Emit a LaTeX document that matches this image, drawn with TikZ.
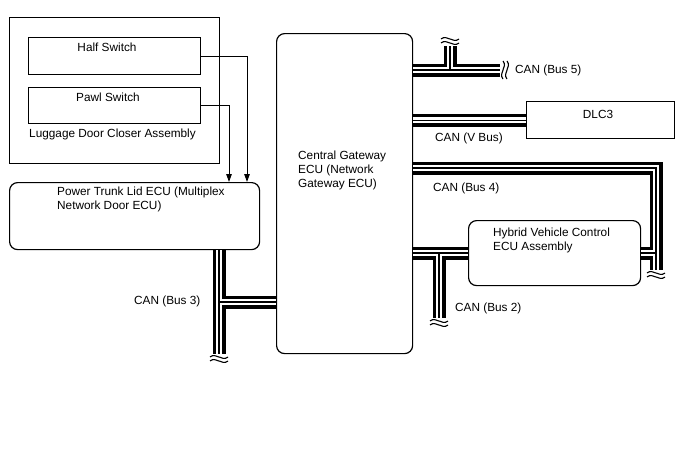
\documentclass[tikz,border=0pt]{standalone}
\usepackage{fontspec}
\setmainfont{Liberation Sans}
\usetikzlibrary{arrows.meta}
\tikzset{
  box/.style={draw, line width=1.2pt, inner sep=0pt, anchor=north west},
  rbox/.style={box, rounded corners=8pt},
  txt/.style={inner sep=0pt, font=\fontsize{11.8}{14}\selectfont, align=left},
  conn/.style={draw, line width=1pt, -{Triangle[length=8pt,width=5.5pt]}},
  busouter/.style={line width=13pt, black, line cap=butt, line join=miter},
  businner/.style={line width=6pt, white, line cap=butt, line join=miter},
  buscore/.style={line width=1.2pt, black, line cap=butt, line join=miter},
  squig/.style={line width=1.1pt, black},
}
\newcommand{\drawbuses}[1]{%
  \draw[#1] (gw.east |- b5e) -- (b5e);
  \draw[#1] (b5j) -- (b5t);
  \draw[#1] (gw.east |- dlc.west) -- (dlc.west);
  \draw[#1] (gw.east |- b4c) -- (b4c) -- (b4e);
  \draw[#1] (b4j) -- (hv.east |- b4j);
  \draw[#1] (gw.east |- b2j) -- (hv.west |- b2j);
  \draw[#1] (b2j) -- (b2e);
  \draw[#1] (trunk.south -| b3e) -- (b3e);
  \draw[#1] (b3j) -- (gw.west |- b3j);
}
% #1 = coordinate name, #2 = +1 (end pointing down) or -1 (end pointing up)
\newcommand{\vend}[2]{%
  \draw[squig] ([shift={(-9,#2*3)}]#1) .. controls +(6,-5) and +(-6,5) .. ++(18,0);
  \draw[squig] ([shift={(-9,#2*7)}]#1) .. controls +(6,-5) and +(-6,5) .. ++(18,0);
}
\newcommand{\hend}[1]{%
  \draw[squig] ([shift={(3,-9)}]#1) .. controls +(5,6) and +(-5,-6) .. ++(0,18);
  \draw[squig] ([shift={(7,-9)}]#1) .. controls +(5,6) and +(-5,-6) .. ++(0,18);
}
\begin{document}
\begin{tikzpicture}[x=1pt,y=-1pt]
\useasboundingbox[fill=white] (0,0) rectangle (688,463);

% boxes
\node[box, minimum width=210pt, minimum height=146pt] (ldc) at (9,17) {};
\node[box, minimum width=172pt, minimum height=37pt] (half) at (28,37) {};
\node[box, minimum width=172pt, minimum height=36pt] (pawl) at (28,87) {};
\node[rbox, minimum width=250pt, minimum height=67pt] (trunk) at (9,182) {};
\node[rbox, minimum width=136pt, minimum height=320pt] (gw) at (276,33) {};
\node[box, minimum width=148pt, minimum height=37pt] (dlc) at (526,101) {};
\node[rbox, minimum width=172pt, minimum height=65pt] (hv) at (468,220) {};

% texts (multi-line nodes: base = baseline of last line)
\node[txt, anchor=base] (halft) at (107,51) {Half Switch};
\node[txt, anchor=base] (pawlt) at (108,101) {Pawl Switch};
\node[txt, anchor=base west] (ldct) at (29,137) {Luggage Door Closer Assembly};
\node[txt, anchor=base west] (trunkt) at (57,209) {Power Trunk Lid ECU (Multiplex\\Network Door ECU)};
\node[txt, anchor=base west] (gwt) at (298,187) {Central Gateway\\ECU (Network\\Gateway ECU)};
\node[txt, anchor=base] (dlct) at (598,118) {DLC3};
\node[txt, anchor=base west] (hvt) at (493,250) {Hybrid Vehicle Control\\ECU Assembly};
\node[txt, anchor=base west] (l5) at (515,73) {CAN (Bus 5)};
\node[txt, anchor=base west] (lv) at (435,141) {CAN (V Bus)};
\node[txt, anchor=base west] (l4) at (433,191) {CAN (Bus 4)};
\node[txt, anchor=base west] (l2) at (455,311) {CAN (Bus 2)};
\node[txt, anchor=base west] (l3) at (134,304) {CAN (Bus 3)};

% arrows
\coordinate (a1) at (247,0);
\coordinate (a2) at (229,0);
\draw[conn] (half.east) -| (a1 |- trunk.north);
\draw[conn] (pawl.east) -| (a2 |- trunk.north);

% bus coordinates
\coordinate (b5e) at (500,70);
\coordinate (b5j) at (450,70);
\coordinate (b5t) at (450,46);
\coordinate (b4c) at (656,168);
\coordinate (b4e) at (656,270);
\coordinate (b4j) at (656,253);
\coordinate (b2j) at (439,253);
\coordinate (b2e) at (439,318);
\coordinate (b3e) at (219,354);
\coordinate (b3j) at (219,302);

\drawbuses{busouter}
\drawbuses{businner}
\drawbuses{buscore}

\hend{b5e}
\vend{b5t}{-1}
\vend{b4e}{1}
\vend{b2e}{1}
\vend{b3e}{1}
\end{tikzpicture}
\end{document}
